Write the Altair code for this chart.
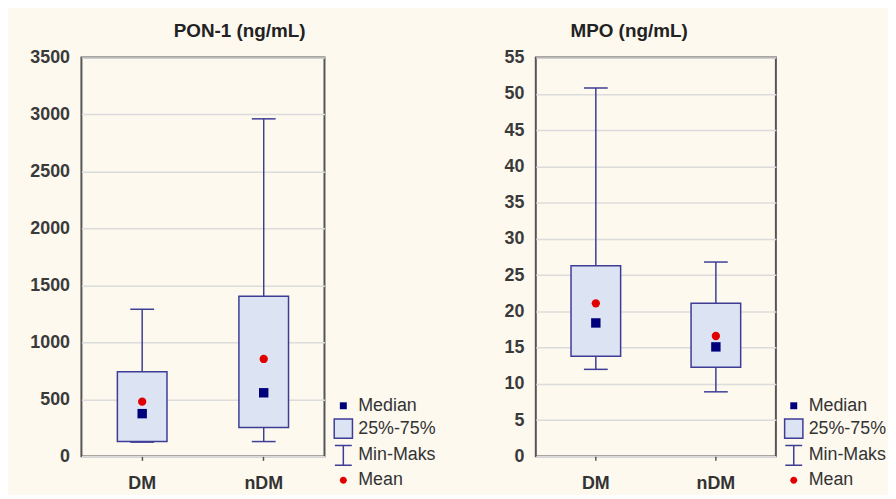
import altair as alt
import pandas as pd

# ---- data ----
groups = ["DM", "nDM"]

pon_min = [125, 130]
pon_q1 = [130, 253]
pon_median = [375, 558]
pon_mean = [480, 855]
pon_q3 = [742, 1405]
pon_max = [1291, 2962]
pon_ticks = [0, 500, 1000, 1500, 2000, 2500, 3000, 3500]

mpo_min = [12.0, 8.9]
mpo_q1 = [13.8, 12.3]
mpo_median = [18.4, 15.1]
mpo_mean = [21.1, 16.6]
mpo_q3 = [26.3, 21.1]
mpo_max = [50.8, 26.8]
mpo_ticks = [0, 5, 10, 15, 20, 25, 30, 35, 40, 45, 50, 55]

legend_items = ["Median", "25%-75%", "Min-Maks", "Mean"]

# ---- styling ----
FONT = "Liberation Sans"
BOX_FILL = "#DCE3F3"
BOX_STROKE = "#3D3D96"
NAVY = "#00007A"
RED = "#E00000"
BG = "#FDF9EF"

legend_shapes = [
    "M-0.35,-0.35H0.35V0.35H-0.35Z",
    "M-0.92,-0.97H0.92V0.97H-0.92Z",
    "M-0.85,-1H0.85M0,-1V1M-0.85,1H0.85",
    "M-0.35,0A0.35,0.35 0 1,0 0.35,0A0.35,0.35 0 1,0 -0.35,0Z",
]
legend_fills = [NAVY, BOX_FILL, "transparent", RED]
legend_strokes = ["transparent", BOX_STROKE, BOX_STROKE, "transparent"]


def panel(title, mins, q1s, meds, means, q3s, maxs, ymax, ticks, title_dx,
          legend_x, legend_y, width, height):
    df = pd.DataFrame({
        "group": groups, "min": mins, "q1": q1s, "median": meds,
        "mean": means, "q3": q3s, "max": maxs,
    })
    xenc = alt.X(
        "group:N", sort=groups,
        scale=alt.Scale(paddingInner=0, paddingOuter=0),
        axis=alt.Axis(
            title=None, labelAngle=0, labelFont=FONT, labelFontSize=18,
            labelFontWeight="bold", labelColor="#333333", domain=False,
            ticks=True, tickSize=4, tickColor="#555555", tickWidth=1.5,
            labelPadding=14, grid=False,
        ),
    )
    yscale = alt.Scale(domain=[0, ymax], nice=False, zero=True)
    yaxis = alt.Axis(
        title=None, values=ticks, format="d", labelFont=FONT, labelFontSize=18,
        labelFontWeight="bold", labelColor="#3a3a3a", domain=False,
        ticks=False, labelPadding=12, grid=True, gridColor="#DCDCDC",
        gridWidth=1.5, labelOverlap=False,
    )

    def Y(field):
        return alt.Y(field, scale=yscale, axis=yaxis)

    base = alt.Chart(df).encode(x=xenc)

    lower = base.mark_rule(color=BOX_STROKE, strokeWidth=1.5).encode(
        y=Y("min:Q"), y2="q1:Q")
    upper = base.mark_rule(color=BOX_STROKE, strokeWidth=1.5).encode(
        y=Y("q3:Q"), y2="max:Q")
    cap_min = base.mark_tick(orient="horizontal", size=24, thickness=1.5,
                             color=BOX_STROKE, opacity=1).encode(y=Y("min:Q"))
    cap_max = base.mark_tick(orient="horizontal", size=24, thickness=1.5,
                             color=BOX_STROKE, opacity=1).encode(y=Y("max:Q"))
    box = base.mark_bar(size=50, fill=BOX_FILL, stroke=BOX_STROKE,
                        strokeWidth=1.5).encode(y=Y("q1:Q"), y2="q3:Q")
    med = base.mark_square(size=90, color=NAVY, opacity=1).encode(y=Y("median:Q"))
    mean = base.mark_circle(size=70, color=RED, opacity=1).encode(y=Y("mean:Q"))

    leg = alt.Legend(
        orient="none", legendX=legend_x, legendY=legend_y, title=None,
        labelFont=FONT, labelFontSize=18, labelColor="#333333",
        symbolOpacity=1, symbolStrokeWidth=1.5, symbolSize=400,
        rowPadding=1, labelOffset=4, padding=0,
    )
    legdf = pd.DataFrame({"item": legend_items})
    legend_layer = alt.Chart(legdf).mark_point(
        filled=True, opacity=0, size=400, strokeWidth=1.5
    ).encode(
        shape=alt.Shape("item:N", sort=legend_items,
                        scale=alt.Scale(domain=legend_items, range=legend_shapes),
                        legend=leg),
        fill=alt.Fill("item:N", sort=legend_items,
                      scale=alt.Scale(domain=legend_items, range=legend_fills),
                      legend=leg),
        stroke=alt.Stroke("item:N", sort=legend_items,
                          scale=alt.Scale(domain=legend_items, range=legend_strokes),
                          legend=leg),
    )

    return alt.layer(lower, upper, cap_min, cap_max, box, med, mean,
                     legend_layer).properties(
        width=width, height=height,
        title=alt.TitleParams(title, font=FONT, fontSize=19, fontWeight="bold",
                              color="#222222", anchor="middle", dx=title_dx,
                              offset=8),
    )


left = panel("PON-1 (ng/mL)", pon_min, pon_q1, pon_median, pon_mean, pon_q3,
             pon_max, 3500, pon_ticks, 37, 253, 340, 245, 402)
right = panel("MPO (ng/mL)", mpo_min, mpo_q1, mpo_median, mpo_mean, mpo_q3,
              mpo_max, 55, mpo_ticks, -27, 249, 340, 242, 402)

chart = alt.hconcat(left, right, spacing=65).properties(
    background=BG,
    padding={"left": 20, "top": 11, "right": 0, "bottom": 0},
).configure_view(
    stroke="#555555", strokeWidth=2, fill="white"
).resolve_scale(
    shape="independent", fill="independent", stroke="independent"
)

chart.save("out.html", embed_options={"renderer": "svg", "actions": False})
